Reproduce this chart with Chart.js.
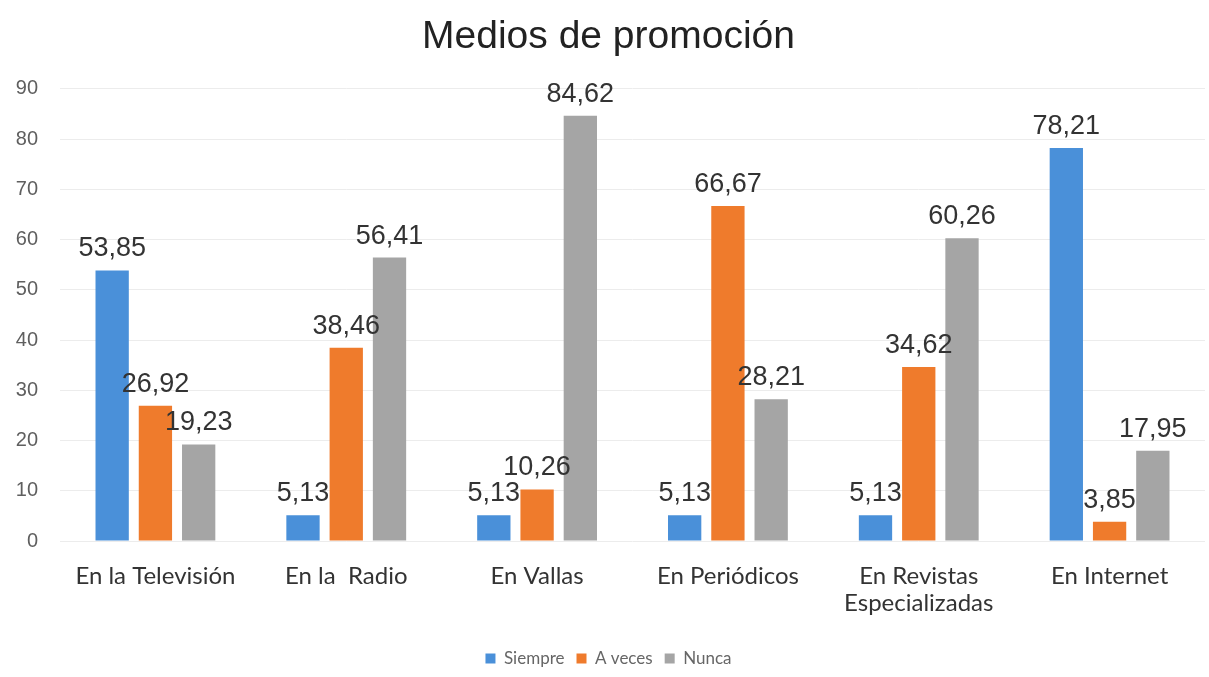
<!DOCTYPE html>
<html>
<head>
<meta charset="utf-8">
<script src="https://cdn.jsdelivr.net/npm/chart.js@4"></script>
<style>
	html, body { margin: 0; padding: 0; background: #fff; }
	#wrap { width: 1209px; height: 677px; }
</style>
</head>
<body>
<div id="wrap"><canvas id="medios"></canvas></div>
<script>
const categorias = [
	"En la Televisión",
	"En la  Radio",
	"En Vallas",
	"En Periódicos",
	["En Revistas", "Especializadas"],
	"En Internet"
]
const siempre = [53.85, 5.13, 5.13, 5.13, 5.13, 78.21]
const aVeces = [26.92, 38.46, 10.26, 66.67, 34.62, 3.85]
const nunca = [19.23, 56.41, 84.62, 28.21, 60.26, 17.95]
const ticksY = [0, 10, 20, 30, 40, 50, 60, 70, 80, 90]

// valores encima de cada barra, con coma decimal
const etiquetas = {
	id: 'etiquetas',
	afterDatasetsDraw(chart) {
		const ctx = chart.ctx
		ctx.save()
		ctx.font = '27px "Liberation Sans", Arial, sans-serif'
		ctx.fillStyle = '#333'
		ctx.textAlign = 'center'
		ctx.textBaseline = 'alphabetic'
		chart.data.datasets.forEach((ds, i) => {
			chart.getDatasetMeta(i).data.forEach((bar, j) => {
				const txt = ds.data[j].toFixed(2).replace('.', ',')
				ctx.fillText(txt, bar.x, bar.y - 14)
			})
		})
		ctx.restore()
	}
}

const medios = () => {
	const data = {
		labels: categorias,
		datasets: [
			{ label: 'Siempre', data: siempre, backgroundColor: '#4a90d9' },
			{ label: 'A veces', data: aVeces, backgroundColor: '#ef7b2c' },
			{ label: 'Nunca', data: nunca, backgroundColor: '#a5a5a5' }
		]
	}

	const ctx = document.getElementById('medios').getContext('2d')

	const chart = new Chart(ctx, {
		type: 'bar',
		data: data,
		plugins: [etiquetas],
		options: {
			responsive: true,
			maintainAspectRatio: false,
			animation: false,
			datasets: { bar: { barPercentage: 0.77, categoryPercentage: 0.68 } },
			layout: { padding: { left: 12, right: 4, top: 0, bottom: 0 } },
			plugins: {
				title: {
					display: true,
					text: 'Medios de promoción',
					color: '#222',
					font: { family: '"Liberation Sans", Arial, sans-serif', size: 39, weight: 'normal' },
					padding: { top: 14, bottom: 28 }
				},
				legend: {
					position: 'bottom',
					labels: {
						boxWidth: 10,
						boxHeight: 10,
						color: '#666',
						font: { family: 'Lato, sans-serif', size: 17 },
						padding: 12
					}
				},
				tooltip: { enabled: false }
			},
			scales: {
				x: {
					grid: { display: false },
					border: { display: false },
					afterFit: (axis) => { axis.height = 97 },
					ticks: {
						color: '#333',
						font: { family: 'Lato, sans-serif', size: 24, lineHeight: 1.15 },
						padding: 13,
						maxRotation: 0,
						autoSkip: false
					}
				},
				y: {
					min: 0,
					max: 90,
					afterBuildTicks: (axis) => { axis.ticks = ticksY.map(v => ({ value: v })) },
					afterFit: (axis) => { axis.width = 48 },
					grid: { color: '#ececec', drawTicks: false },
					border: { display: false },
					ticks: {
						color: '#5f5f5f',
						font: { family: '"Liberation Sans", Arial, sans-serif', size: 20 },
						padding: 22
					}
				}
			}
		}
	})
}

window.addEventListener('load', medios)
</script>
</body>
</html>
